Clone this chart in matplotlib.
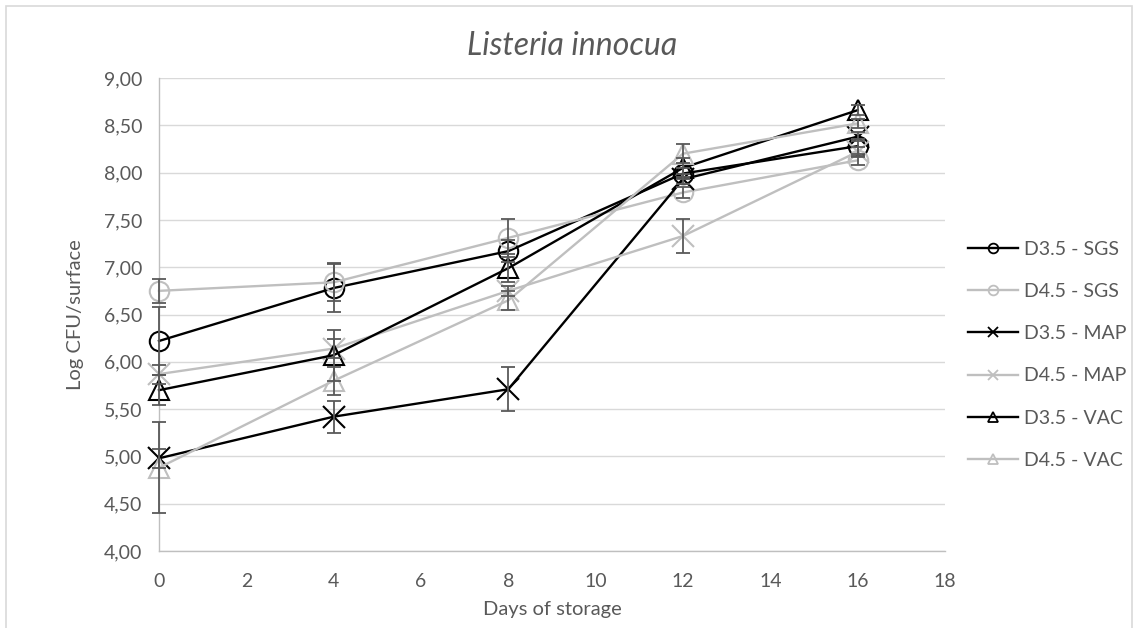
import matplotlib
matplotlib.use('Agg')
import matplotlib.pyplot as plt
from matplotlib.lines import Line2D
from matplotlib.patches import Rectangle
from matplotlib.ticker import FuncFormatter

# 数据：储存天数与各组 log CFU
days = [0, 4, 8, 12, 16]
labels = ['D3.5 - SGS', 'D4.5 - SGS', 'D3.5 - MAP', 'D4.5 - MAP', 'D3.5 - VAC', 'D4.5 - VAC']

d35_sgs = [6.22, 6.78, 7.17, 7.99, 8.28]
d45_sgs = [6.75, 6.84, 7.31, 7.79, 8.13]
d35_map = [4.98, 5.42, 5.71, 7.93, 8.38]
d45_map = [5.87, 6.14, 6.75, 7.33, 8.22]
d35_vac = [5.70, 6.07, 6.99, 8.05, 8.66]
d45_vac = [4.88, 5.80, 6.65, 8.20, 8.52]

err_d35_sgs = [0.36, 0.25, 0.12, 0.06, 0.08]
err_d45_sgs = [0.13, 0.20, 0.20, 0.06, 0.05]
err_d35_map = [0.10, 0.17, 0.23, 0.05, 0.05]
err_d45_map = [0.10, 0.10, 0.05, 0.18, 0.05]
err_d35_vac = [0.16, 0.27, 0.15, 0.10, 0.05]
err_d45_vac = [0.48, 0.15, 0.10, 0.10, 0.05]

series = [d35_sgs, d45_sgs, d35_map, d45_map, d35_vac, d45_vac]
errors = [err_d35_sgs, err_d45_sgs, err_d35_map, err_d45_map, err_d35_vac, err_d45_vac]
colors = ['black', '#bfbfbf'] * 3
markers = ['o', 'o', 'x', 'x', '^', '^']

plt.rcParams['font.family'] = ['Lato', 'DejaVu Sans']

fig = plt.figure(figsize=(11.38, 6.28), dpi=100)
ax = fig.add_axes([0.1397, 0.1226, 0.8304 - 0.1397, 0.8758 - 0.1226])

txt = '#595959'
for i in range(len(series)):
    ax.plot(days, series[i], color=colors[i], lw=1.7, marker=markers[i],
            markersize=14 if markers[i] != 'x' else 16, markerfacecolor='none',
            markeredgecolor=colors[i], markeredgewidth=1.5, zorder=3 + i, clip_on=False)
    eb = ax.errorbar(days, series[i], yerr=errors[i], fmt='none', ecolor='#595959',
                     elinewidth=1.3, capsize=5, capthick=1.3, zorder=10)
    for a in eb.get_children():
        a.set_clip_on(False)

ax.set_xlim(0, 18)
ax.set_ylim(4, 9)
ax.set_xticks(range(0, 19, 2))
ax.set_yticks([4 + 0.5 * k for k in range(11)])
ax.yaxis.set_major_formatter(FuncFormatter(lambda v, p: ('%.2f' % v).replace('.', ',')))
ax.tick_params(length=0, labelsize=14, labelcolor=txt)
ax.tick_params(axis='x', pad=16)
ax.tick_params(axis='y', pad=12)
ax.grid(axis='y', color='#d9d9d9', lw=1)
ax.set_axisbelow(True)
for s in ['top', 'right']:
    ax.spines[s].set_visible(False)
for s in ['left', 'bottom']:
    ax.spines[s].set_color('#bfbfbf')
    ax.spines[s].set_linewidth(1)

# 标题居中于整个图表区域
fig.text(0.503, 1 - 46 / 628, 'Listeria innocua', style='italic', fontsize=23,
         color=txt, ha='center', va='center')
ax.set_xlabel('Days of storage', fontsize=14.5, color=txt, labelpad=8)
ax.set_ylabel('Log CFU/surface', fontsize=14.5, color=txt, labelpad=14)

handles = [Line2D([0], [0], color=colors[i], lw=1.7, marker=markers[i], markersize=7,
                  markerfacecolor='none', markeredgecolor=colors[i], markeredgewidth=1.3)
           for i in range(len(series))]
leg = fig.legend(handles, labels, loc='center left', bbox_to_anchor=(0.835, 0.435),
                 frameon=False, fontsize=14, handlelength=2.6, labelspacing=1.3,
                 handletextpad=0.3)
for t in leg.get_texts():
    t.set_color(txt)

fig.patches.append(Rectangle((6 / 1138, -0.1), 1126 / 1138, 1.1 - 6 / 628,
                             transform=fig.transFigure, fill=False,
                             edgecolor='#d9d9d9', lw=1.2))

fig.savefig('out.png', dpi=100)
